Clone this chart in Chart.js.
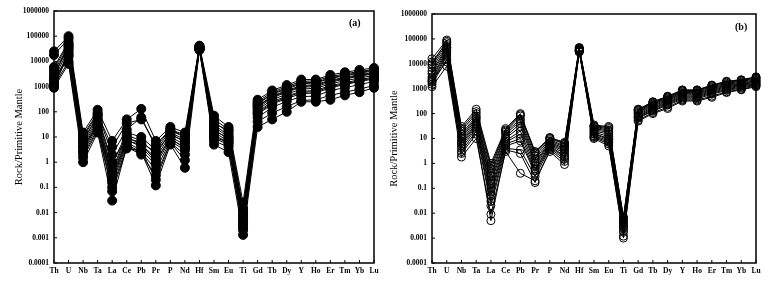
<!DOCTYPE html>
<html>
<head>
<meta charset="utf-8">
<script src="https://cdn.jsdelivr.net/npm/chart.js@4.4.1/dist/chart.umd.min.js"></script>
<style>
  body { margin: 0; background: #fff; }
  #wrap { position: relative; width: 782px; height: 286px; overflow: hidden; }
  canvas { position: absolute; top: 0; }
  .tag { position: absolute; font: bold 10px "Liberation Serif", serif; color: #000; }
</style>
</head>
<body>
<div id="wrap">
  <canvas id="chartA" width="390" height="286" style="left:0"></canvas>
  <canvas id="chartB" width="398" height="286" style="left:384px"></canvas>
  <div class="tag" style="left:349px;top:17px">(a)</div>
  <div class="tag" style="left:735px;top:21px">(b)</div>
</div>
<script>
// element order on the x axis
const elements = ['Th', 'U', 'Nb', 'Ta', 'La', 'Ce', 'Pb', 'Pr', 'P', 'Nd', 'Hf', 'Sm', 'Eu', 'Ti', 'Gd', 'Tb', 'Dy', 'Y', 'Ho', 'Er', 'Tm', 'Yb', 'Lu'];

// log axis ticks
const yTicks = [0.0001, 0.001, 0.01, 0.1, 1, 10, 100, 1000, 10000, 100000, 1000000];
const yTickLabels = ['0.0001', '0.001', '0.01', '0.1', '1', '10', '100', '1000', '10000', '100000', '1000000'];

// panel (a) samples - filled circles
const a01 = [25000, 100000, 15, 120, 7, 50, 130, 7, 25, 15, 42000, 70, 25, 0.025, 300, 700, 1150, 1900, 1900, 2900, 3700, 4600, 5500];
const a02 = [18000, 80000, 10, 80, 4, 35, 50, 5, 20, 12, 38000, 50, 20, 0.015, 250, 600, 1000, 1600, 1700, 2500, 3200, 4000, 4800];
const a03 = [5000, 50000, 8, 60, 0.8, 15, 10, 3, 18, 10, 36000, 40, 15, 0.01, 200, 500, 800, 1300, 1400, 2100, 2700, 3400, 4200];
const a04 = [4000, 40000, 6, 50, 0.5, 12, 7, 2, 15, 8, 35000, 30, 12, 0.008, 170, 420, 700, 1100, 1200, 1800, 2300, 3000, 3600];
const a05 = [2000, 30000, 5, 40, 0.4, 10, 5, 1.5, 12, 7, 34000, 25, 10, 0.006, 140, 360, 600, 950, 1000, 1500, 2000, 2600, 3200];
const a06 = [1200, 25000, 4, 35, 0.3, 8, 4, 1, 10, 5, 33000, 20, 8, 0.005, 120, 300, 500, 800, 850, 1300, 1700, 2200, 2800];
const a07 = [1000, 20000, 3, 30, 0.2, 6, 3, 0.8, 8, 4, 32000, 15, 7, 0.004, 100, 250, 420, 650, 700, 1100, 1400, 1900, 2400];
const a08 = [3000, 35000, 2.5, 25, 0.15, 5, 2.5, 0.5, 7, 3, 31000, 12, 6, 0.003, 80, 200, 340, 520, 560, 900, 1200, 1600, 2000];
const a09 = [1500, 15000, 2, 20, 0.1, 4, 2, 0.3, 6, 2, 30000, 9, 5, 0.0025, 60, 150, 260, 400, 420, 700, 900, 1200, 1600];
const a10 = [1100, 10000, 1.5, 18, 0.07, 3.5, 3, 0.2, 6, 1.2, 30000, 7, 4, 0.002, 40, 90, 160, 280, 300, 450, 600, 800, 1100];
const a11 = [900, 8000, 1, 15, 0.03, 4, 2.5, 0.12, 5, 0.6, 28000, 5, 2.5, 0.0013, 25, 50, 100, 250, 250, 300, 450, 600, 900];
const a12 = [6000, 60000, 12, 90, 2, 20, 60, 4, 20, 10, 40000, 35, 18, 0.012, 220, 520, 900, 1400, 1500, 2200, 2900, 3600, 4500];
const a13 = [2500, 45000, 7, 70, 1, 9, 6, 2.5, 14, 6, 37000, 18, 9, 0.007, 160, 400, 650, 1000, 1100, 1700, 2100, 2800, 3400];
const a14 = [1800, 18000, 4, 28, 0.25, 7, 5, 1.2, 9, 3.5, 33000, 10, 6, 0.0035, 90, 220, 380, 600, 620, 1000, 1300, 1700, 2200];

// panel (b) samples - open circles
const b01 = [16000, 90000, 30, 150, 1, 25, 100, 3, 11, 7, 45000, 35, 30, 0.007, 150, 300, 500, 900, 900, 1400, 2000, 2300, 3000];
const b02 = [12000, 70000, 20, 100, 0.6, 20, 80, 2.5, 10, 6, 42000, 30, 25, 0.006, 140, 280, 460, 820, 840, 1300, 1800, 2100, 2700];
const b03 = [9000, 60000, 15, 80, 0.4, 18, 60, 2, 9, 5, 40000, 28, 22, 0.005, 130, 260, 430, 760, 780, 1200, 1650, 1950, 2500];
const b04 = [7000, 50000, 12, 70, 0.3, 15, 50, 1.5, 8, 4.5, 38000, 25, 20, 0.0045, 120, 240, 400, 700, 720, 1100, 1500, 1800, 2300];
const b05 = [5000, 45000, 10, 60, 0.2, 12, 40, 1.2, 7, 4, 37000, 22, 18, 0.004, 110, 220, 370, 650, 660, 1000, 1400, 1650, 2100];
const b06 = [4000, 40000, 8, 50, 0.15, 10, 30, 1, 6.5, 3.5, 36000, 20, 15, 0.0035, 100, 200, 340, 600, 610, 920, 1300, 1550, 2000];
const b07 = [3000, 35000, 7, 40, 0.1, 8, 20, 0.8, 6, 3, 35000, 18, 12, 0.003, 90, 180, 310, 550, 560, 850, 1200, 1450, 1850];
const b08 = [2500, 30000, 6, 35, 0.07, 7, 15, 0.6, 5.5, 2.5, 34000, 16, 10, 0.0028, 80, 165, 280, 500, 510, 780, 1100, 1350, 1700];
const b09 = [2000, 25000, 5, 30, 0.05, 6, 10, 0.5, 5, 2, 33000, 15, 9, 0.0025, 75, 150, 260, 460, 470, 720, 1000, 1250, 1600];
const b10 = [1800, 20000, 4, 25, 0.03, 5, 8, 0.4, 4.5, 1.8, 32000, 13, 8, 0.002, 70, 135, 240, 420, 430, 660, 920, 1150, 1500];
const b11 = [1500, 15000, 3, 20, 0.02, 4, 3.5, 0.3, 4, 1.5, 31000, 12, 7, 0.0017, 65, 125, 220, 380, 390, 600, 850, 1050, 1400];
const b12 = [1200, 8000, 1.8, 10, 0.009, 3, 0.4, 0.2, 3, 0.9, 30000, 10, 5, 0.0012, 50, 100, 160, 320, 320, 450, 700, 900, 1200];
const b13 = [2200, 12000, 2.5, 15, 0.005, 3.5, 2.5, 0.17, 3.5, 1.2, 30500, 11, 6, 0.001, 55, 110, 180, 350, 350, 500, 750, 950, 1300];
const b14 = [10000, 80000, 25, 120, 0.8, 22, 90, 2.8, 10.5, 6.5, 44000, 32, 28, 0.0065, 145, 290, 480, 860, 870, 1350, 1900, 2200, 2850];

const samplesA = [a01, a02, a03, a04, a05, a06, a07, a08, a09, a10, a11, a12, a13, a14];
const samplesB = [b01, b02, b03, b04, b05, b06, b07, b08, b09, b10, b11, b12, b13, b14];

const tickFont = { family: 'Liberation Serif', size: 7.5, weight: 'bold' };

// frame on all 4 sides + small inward ticks
const framePlugin = {
  id: 'frame',
  afterDraw(chart) {
    const { ctx, chartArea: a, scales } = chart;
    ctx.save();
    ctx.strokeStyle = '#000';
    ctx.lineWidth = 1;
    elements.forEach((el, i) => {
      const x = scales.x.getPixelForValue(i);
      ctx.beginPath();
      ctx.moveTo(x, a.bottom);
      ctx.lineTo(x, a.bottom - 3);
      ctx.stroke();
    });
    yTicks.forEach(v => {
      const y = scales.y.getPixelForValue(v);
      ctx.beginPath();
      ctx.moveTo(a.left, y);
      ctx.lineTo(a.left + 3, y);
      ctx.stroke();
    });
    ctx.lineWidth = 1.5;
    ctx.strokeRect(a.left, a.top, a.right - a.left, a.bottom - a.top);
    ctx.restore();
  }
};

function makeChart(id, samples, filled, pad, yWidth, titlePad) {
  const datasets = samples.map(s => ({
    data: s,
    borderColor: '#000',
    borderWidth: 1,
    pointRadius: filled ? 4.5 : 4,
    pointBorderWidth: 1,
    pointBorderColor: '#000',
    pointBackgroundColor: filled ? '#000' : 'rgba(0,0,0,0)',
    tension: 0
  }));
  return new Chart(document.getElementById(id).getContext('2d'), {
    type: 'line',
    data: { labels: elements, datasets: datasets },
    options: {
      responsive: false,
      animation: false,
      devicePixelRatio: 1,
      layout: { padding: pad },
      plugins: { legend: { display: false }, tooltip: { enabled: false } },
      scales: {
        x: {
          type: 'category',
          offset: false,
          grid: { display: false, drawTicks: false },
          border: { display: false },
          ticks: { color: '#000', font: tickFont, padding: 4, autoSkip: false, maxRotation: 0 },
          afterFit(scale) { scale.height = 23; }
        },
        y: {
          type: 'logarithmic',
          min: 0.0001,
          max: 1000000,
          grid: { display: false, drawTicks: false },
          border: { display: false },
          afterBuildTicks(scale) {
            scale.ticks = yTicks.map(v => ({ value: v }));
          },
          ticks: {
            color: '#000',
            font: tickFont,
            padding: 5,
            callback: (v) => yTickLabels[yTicks.indexOf(v)] ?? ''
          },
          title: {
            display: true,
            text: 'Rock/Primitive Mantle',
            color: '#000',
            font: { family: 'Liberation Serif', size: 10.5 },
            padding: { top: titlePad, bottom: 0 }
          },
          afterFit(scale) { scale.width = yWidth; }
        }
      }
    },
    plugins: [framePlugin]
  });
}

makeChart('chartA', samplesA, true, { top: 11, right: 16, bottom: 0, left: 0 }, 54, 13);
makeChart('chartB', samplesB, false, { top: 14, right: 26, bottom: 0, left: 0 }, 48, 4);
</script>
</body>
</html>
